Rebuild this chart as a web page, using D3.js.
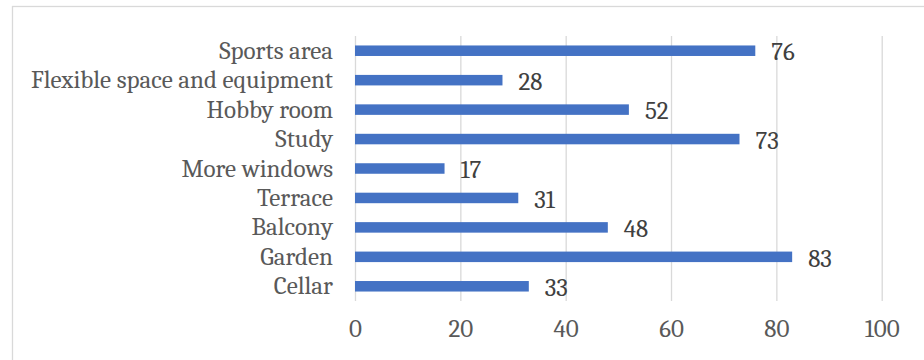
<!DOCTYPE html>
<html>
<head>
<meta charset="utf-8">
<script src="https://cdn.jsdelivr.net/npm/d3@7"></script>
<style>
  html, body { margin: 0; padding: 0; background: #fff; }
  svg { display: block; }
  text { font-family: Cambria, Caladea, "DejaVu Serif", serif; }
</style>
</head>
<body>
<svg id="chart" width="924" height="360"></svg>
<script>
// Room preferences (count of answers per feature)
const categories = ["Sports area", "Flexible space and equipment", "Hobby room", "Study",
                    "More windows", "Terrace", "Balcony", "Garden", "Cellar"];
const values = [76, 28, 52, 73, 17, 31, 48, 83, 33];
const xTicks = [0, 20, 40, 60, 80, 100];

const FONT = "Cambria, Caladea, 'DejaVu Serif', serif";
const FS = "25px";

const svg = d3.select("#chart");
const W = 924, H = 360;
const plot = { left: 355, right: 881.7, top: 36, bottom: 301 };

// Outer chart frame (continues past the canvas on the right and bottom)
svg.append("rect")
  .attr("x", 12.5).attr("y", 6.5)
  .attr("width", W + 20).attr("height", H + 20)
  .attr("fill", "none").attr("stroke", "#d9d9d9").attr("stroke-width", 1.3);

const x = d3.scaleLinear().domain([0, 100]).range([plot.left, plot.right]);
const y = d3.scaleBand().domain(categories)
  .range([plot.top, plot.bottom])
  .paddingInner(0.643).paddingOuter(0.3215);

// Vertical gridlines + bottom tick labels
const xAxis = d3.axisBottom(x).tickValues(xTicks)
  .tickSizeInner(-(plot.bottom - plot.top)).tickSizeOuter(0).tickPadding(18);
const gx = svg.append("g").attr("transform", `translate(0,${plot.bottom})`).call(xAxis);
gx.select(".domain").remove();
gx.selectAll(".tick line").attr("stroke", "#d9d9d9").attr("stroke-width", 1.3);
gx.selectAll(".tick text")
  .attr("fill", "#595959").attr("font-size", FS).attr("font-family", FONT);

// Category labels
const yAxis = d3.axisLeft(y).tickSize(0).tickPadding(22);
const gy = svg.append("g").attr("transform", `translate(${plot.left},0)`).call(yAxis);
gy.select(".domain").remove();
gy.selectAll(".tick text")
  .attr("fill", "#595959").attr("font-size", FS).attr("font-family", FONT);

// Bars
const rows = categories.map((c, i) => ({ cat: c, val: values[i] }));
svg.append("g").selectAll("rect").data(rows).join("rect")
  .attr("x", x(0))
  .attr("y", d => y(d.cat))
  .attr("width", d => x(d.val) - x(0))
  .attr("height", y.bandwidth())
  .attr("fill", "#4472c4");

// Value labels at bar ends
svg.append("g").selectAll("text").data(rows).join("text")
  .attr("x", d => x(d.val) + 16)
  .attr("y", d => y(d.cat) + y.bandwidth() / 2 + 1)
  .attr("dy", "0.35em")
  .attr("fill", "#404040").attr("font-size", FS).attr("font-family", FONT)
  .text(d => d.val);
</script>
</body>
</html>
